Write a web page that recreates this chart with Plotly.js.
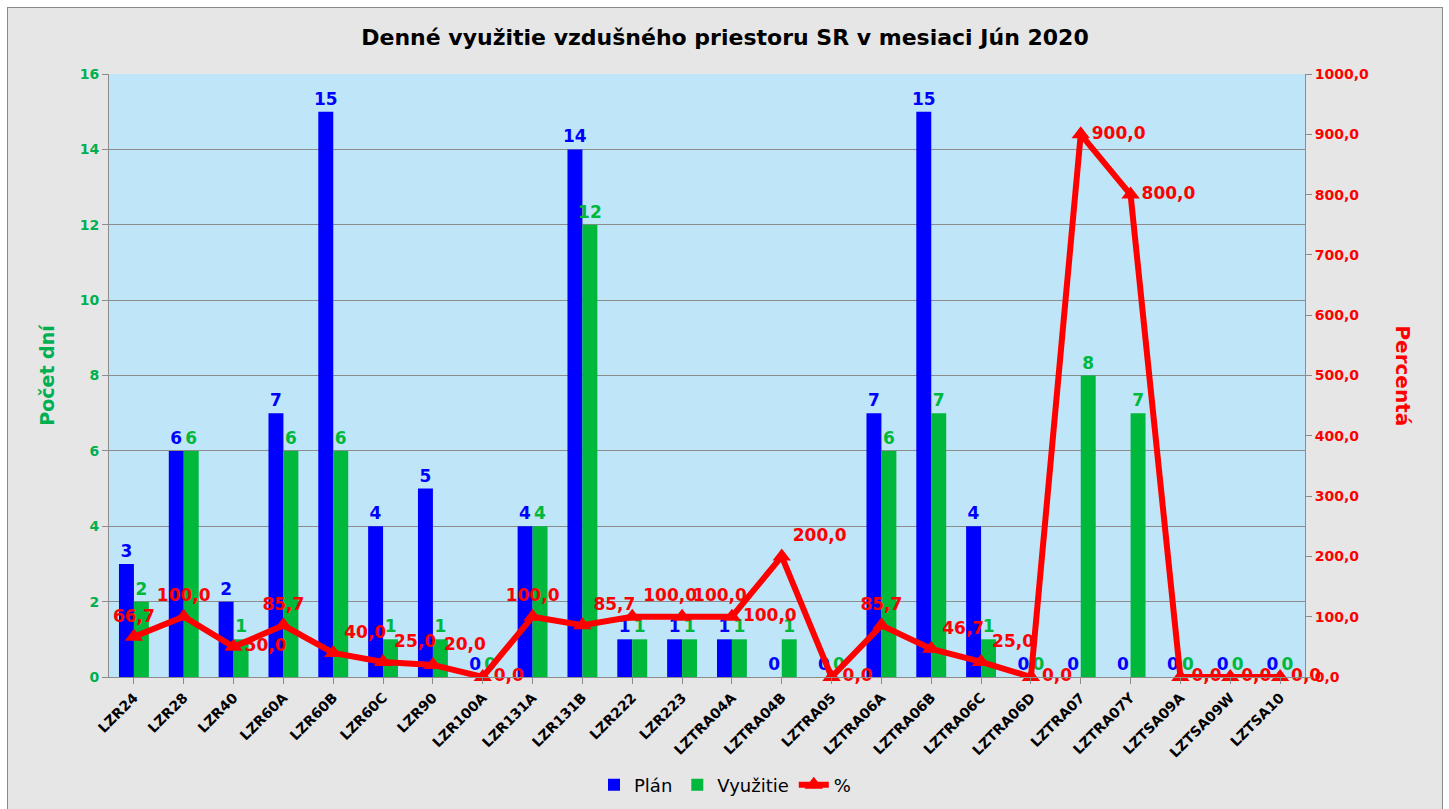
<!DOCTYPE html>
<html>
<head>
<meta charset="utf-8">
<script src="https://cdn.plot.ly/plotly-3.0.1.min.js"></script>
<style>
html,body{margin:0;padding:0;background:#ffffff;}
#chart{position:absolute;left:7px;top:7px;width:1436px;height:803px;border:1px solid #8a8a8a;box-sizing:border-box;background:#e6e6e6;}
</style>
</head>
<body>
<div id="chart"></div>
<script>
const categories = ["LZR24","LZR28","LZR40","LZR60A","LZR60B","LZR60C","LZR90","LZR100A","LZR131A","LZR131B","LZR222","LZR223","LZTRA04A","LZTRA04B","LZTRA05","LZTRA06A","LZTRA06B","LZTRA06C","LZTRA06D","LZTRA07","LZTRA07Y","LZTSA09A","LZTSA09W","LZTSA10"];
const plan      = [3,6,2,7,15,4,5,0,4,14,1,1,1,0,0,7,15,4,0,0,0,0,0,0];
const vyuzitie  = [2,6,1,6,6,1,1,0,4,12,1,1,1,1,0,6,7,1,0,8,7,0,0,0];
const percent   = [66.7,100,50,85.7,40,25,20,0,100,85.7,100,100,100,200,0,85.7,46.7,25,0,900,800,0,0,0];

const fmt = v => v.toFixed(1).replace('.', ',');
const T = 'top center', R = 'top right', M = 'middle right';
const pctPos = [T,T,M,T,R,R,R,M,T,R,R,R,M,R,M,T,R,R,M,M,M,M,M,M];

const BLUE = '#0000ff', GREEN = '#00b83c', RED = '#ff0000';
const FONT = 'DejaVu Sans, Verdana, sans-serif';

const traces = [
  {type:'bar', name:'Plán', x:categories, y:plan, marker:{color:BLUE},
   text:plan.map(String), textposition:'outside', cliponaxis:false, constraintext:'none',
   textfont:{family:FONT, size:17, color:BLUE, weight:'bold'}, hoverinfo:'y'},
  {type:'bar', name:'Využitie', x:categories, y:vyuzitie, marker:{color:GREEN},
   text:vyuzitie.map(String), textposition:'outside', cliponaxis:false, constraintext:'none',
   textfont:{family:FONT, size:17, color:GREEN, weight:'bold'}, hoverinfo:'y'},
  {type:'scatter', mode:'lines+markers+text', name:'%', x:categories, y:percent, yaxis:'y2',
   line:{color:RED, width:6}, marker:{symbol:'triangle-up', size:16, color:RED},
   text:percent.map(fmt), textposition:pctPos, cliponaxis:false,
   textfont:{family:FONT, size:17, color:RED, weight:'bold'}}
];

const layout = {
  width:1434, height:801,
  paper_bgcolor:'#e6e6e6', plot_bgcolor:'#bee5f8',
  margin:{l:101, r:137, t:66, b:132, pad:0},
  font:{family:FONT, color:'#000'},
  title:{text:'<b>Denné využitie vzdušného priestoru SR v mesiaci Jún 2020</b>', x:0.5, xanchor:'center', y:0.963, yanchor:'middle', font:{family:FONT, size:22, color:'#000'}},
  barmode:'group', bargap:0.4, bargroupgap:0,
  showlegend:true,
  legend:{orientation:'h', xref:'container', yref:'container', x:0.5, xanchor:'center', y:0.03, yanchor:'middle', font:{family:FONT, size:18, color:'#000'}, bgcolor:'rgba(0,0,0,0)'},
  xaxis:{type:'category', range:[-0.5, categories.length-0.5], tickangle:-45, automargin:false, tickfont:{family:FONT, size:14, color:'#000', weight:'bold'},
    showline:true, linecolor:'#8c8c8c', linewidth:1, ticks:'outside', ticklen:6, tickcolor:'#8c8c8c',
    showgrid:false, mirror:false, fixedrange:true},
  yaxis:{range:[0,16], dtick:2, automargin:false, tickfont:{family:FONT, size:14, color:'#00b050', weight:'bold'},
    showline:true, linecolor:'#8c8c8c', ticks:'outside', ticklen:6, tickcolor:'#8c8c8c',
    showgrid:true, gridcolor:'#8c8c8c', gridwidth:1, zeroline:false,
    title:{text:'<b>Počet dní</b>', font:{family:FONT, size:19, color:'#00b050'}, standoff:20}},
  yaxis2:{overlaying:'y', side:'right', range:[0,1000], dtick:100, tickformat:'.1f', automargin:false,
    tickfont:{family:FONT, size:14, color:RED, weight:'bold'},
    showline:true, linecolor:'#8c8c8c', ticks:'outside', ticklen:6, tickcolor:'#8c8c8c',
    showgrid:false, zeroline:false},
  separators:',.',
  annotations:[
    {text:'<b>Percentá</b>', xref:'paper', yref:'paper', x:1.082, y:0.5, xanchor:'center', yanchor:'middle',
     textangle:90, showarrow:false, font:{family:FONT, size:20, color:RED}}
  ]
};

Plotly.newPlot('chart', traces, layout, {displayModeBar:false});
</script>
</body>
</html>
